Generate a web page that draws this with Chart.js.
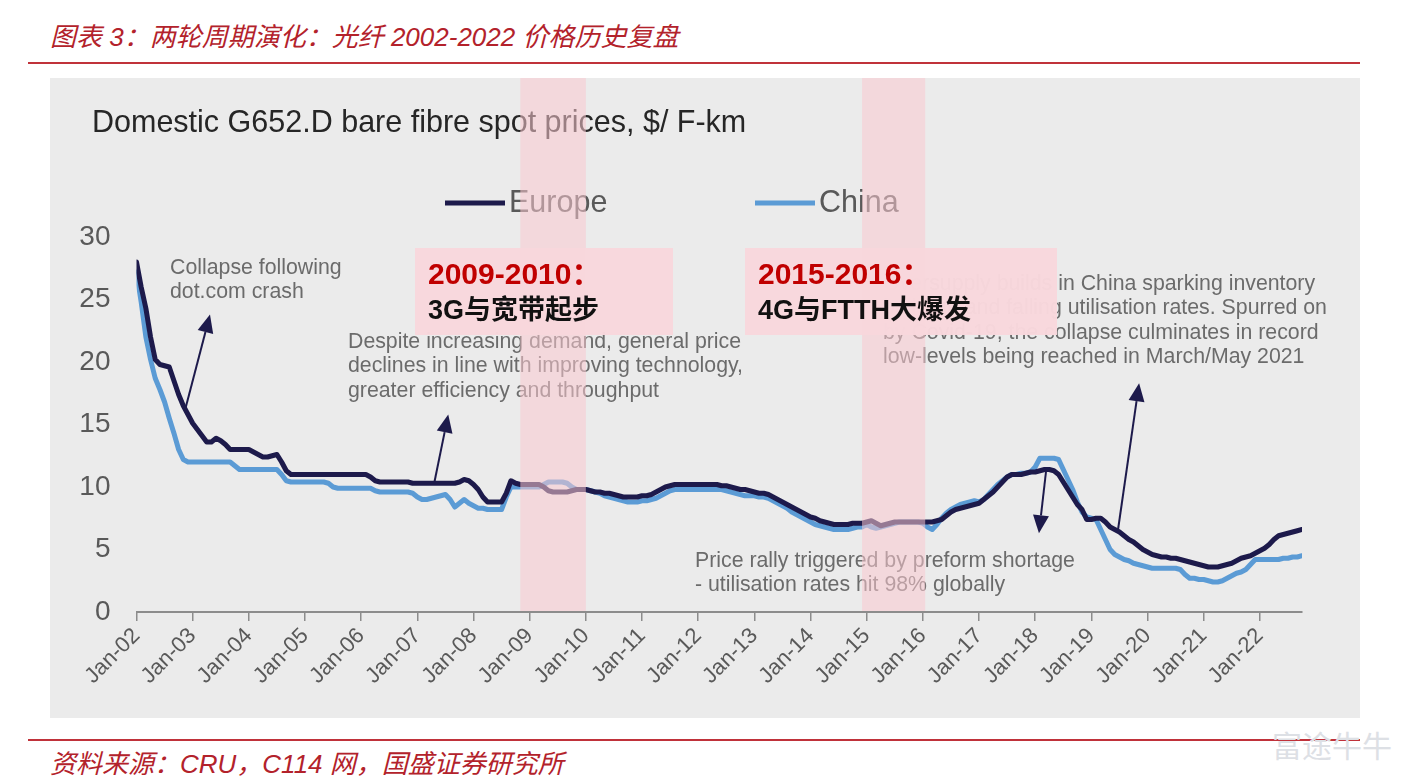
<!DOCTYPE html>
<html lang="zh-CN">
<head>
<meta charset="utf-8">
<title>光纤 2002-2022 价格历史复盘</title>
<script src="https://cdn.jsdelivr.net/npm/chart.js@4.4.1/dist/chart.umd.min.js"></script>
<style>
  html, body { margin: 0; padding: 0; background: #fff; }
  body { width: 1417px; height: 779px; position: relative; overflow: hidden; }
  .caption {
    position: absolute; left: 50px; white-space: nowrap;
    font-family: "Liberation Sans", "Noto Sans CJK SC", sans-serif;
    font-style: italic; font-size: 26px; color: #b3222b;
  }
  .rule { position: absolute; left: 28px; width: 1332px; height: 2px; background: #c0323a; }
  #panel { position: absolute; left: 50px; top: 78px; width: 1310px; height: 640px; background: #ebebeb; }
  .mark { position: absolute; left: 1272px; top: 722px; font: 30px "Noto Sans CJK SC", sans-serif; color: #dde0e5; }
</style>
</head>
<body>
<div class="caption" style="top:16px">图表 3：两轮周期演化：光纤 2002-2022 价格历史复盘</div>
<div class="rule" style="top:62px"></div>
<div id="panel"><canvas id="chart" width="1310" height="640"></canvas></div>
<div class="rule" style="top:739px"></div>
<div class="caption" style="top:743px">资料来源：CRU，C114 网，国盛证券研究所</div>
<div class="mark">富途牛牛</div>

<script>
// monthly spot prices, Jan-02 .. Oct-22 ($/F-km), one row per year
const tickLabels = ["Jan-02", "Jan-03", "Jan-04", "Jan-05", "Jan-06", "Jan-07", "Jan-08",
  "Jan-09", "Jan-10", "Jan-11", "Jan-12", "Jan-13", "Jan-14", "Jan-15", "Jan-16",
  "Jan-17", "Jan-18", "Jan-19", "Jan-20", "Jan-21", "Jan-22"];

const europe = [
  28.0, 26.0, 24.3, 22.0, 20.2, 19.8, 19.7, 19.6, 18.5, 17.4, 16.5, 15.8,
  15.1, 14.6, 14.1, 13.6, 13.6, 13.9, 13.7, 13.4, 13.0, 13.0, 13.0, 13.0,
  13.0, 12.8, 12.6, 12.4, 12.4, 12.5, 12.6, 12.0, 11.3, 11.0, 11.0, 11.0,
  11.0, 11.0, 11.0, 11.0, 11.0, 11.0, 11.0, 11.0, 11.0, 11.0, 11.0, 11.0,
  11.0, 11.0, 10.8, 10.5, 10.4, 10.4, 10.4, 10.4, 10.4, 10.4, 10.4, 10.3,
  10.3, 10.3, 10.3, 10.3, 10.3, 10.3, 10.3, 10.3, 10.3, 10.4, 10.6, 10.5,
  10.2, 9.8, 9.2, 8.8, 8.8, 8.8, 8.8, 9.5, 10.5, 10.3, 10.2, 10.2,
  10.2, 10.2, 10.2, 10.0, 9.7, 9.6, 9.6, 9.6, 9.6, 9.7, 9.8, 9.8,
  9.8, 9.7, 9.6, 9.6, 9.5, 9.5, 9.4, 9.3, 9.2, 9.2, 9.2, 9.2,
  9.3, 9.3, 9.4, 9.6, 9.8, 10.0, 10.1, 10.2, 10.2, 10.2, 10.2, 10.2,
  10.2, 10.2, 10.2, 10.2, 10.2, 10.1, 10.1, 10.0, 9.9, 9.8, 9.8, 9.7,
  9.6, 9.5, 9.5, 9.4, 9.2, 9.0, 8.8, 8.6, 8.4, 8.2, 8.0, 7.8,
  7.6, 7.5, 7.3, 7.2, 7.1, 7.0, 7.0, 7.0, 7.0, 7.1, 7.1, 7.1,
  7.2, 7.3, 7.1, 6.9, 7.0, 7.1, 7.2, 7.2, 7.2, 7.2, 7.2, 7.2,
  7.2, 7.2, 7.2, 7.3, 7.4, 7.7, 8.0, 8.2, 8.3, 8.4, 8.5, 8.6,
  8.7, 9.0, 9.3, 9.6, 10.0, 10.4, 10.8, 11.0, 11.0, 11.0, 11.1, 11.2,
  11.2, 11.3, 11.4, 11.4, 11.3, 11.0, 10.4, 9.8, 9.2, 8.6, 8.2, 7.4,
  7.4, 7.5, 7.5, 7.2, 6.8, 6.6, 6.4, 6.1, 5.8, 5.6, 5.3, 5.0,
  4.8, 4.6, 4.5, 4.4, 4.4, 4.3, 4.3, 4.2, 4.1, 4.0, 3.9, 3.8,
  3.7, 3.6, 3.6, 3.6, 3.7, 3.8, 3.9, 4.1, 4.3, 4.4, 4.5, 4.7,
  4.9, 5.1, 5.4, 5.8, 6.1, 6.2, 6.3, 6.4, 6.5, 6.6
];

const china = [
  27.2, 24.8, 22.0, 20.2, 18.7, 17.8, 16.8, 15.5, 14.3, 13.0, 12.2, 12.0,
  12.0, 12.0, 12.0, 12.0, 12.0, 12.0, 12.0, 12.0, 12.0, 11.7, 11.4, 11.4,
  11.4, 11.4, 11.4, 11.4, 11.4, 11.4, 11.4, 11.0, 10.5, 10.4, 10.4, 10.4,
  10.4, 10.4, 10.4, 10.4, 10.4, 10.3, 10.0, 9.9, 9.9, 9.9, 9.9, 9.9,
  9.9, 9.9, 9.9, 9.7, 9.6, 9.6, 9.6, 9.6, 9.6, 9.6, 9.6, 9.5,
  9.2, 9.0, 9.0, 9.1, 9.2, 9.3, 9.4, 9.0, 8.4, 8.7, 9.0, 8.7,
  8.5, 8.3, 8.3, 8.2, 8.2, 8.2, 8.2, 9.2, 10.0, 10.0, 10.0, 10.0,
  10.0, 10.0, 10.0, 10.2, 10.4, 10.4, 10.4, 10.4, 10.3, 10.0, 9.8, 9.8,
  9.8, 9.7, 9.6, 9.5, 9.3, 9.2, 9.1, 9.0, 8.9, 8.8, 8.8, 8.8,
  8.9, 8.9, 9.0, 9.1, 9.3, 9.5, 9.7, 9.8, 9.8, 9.8, 9.8, 9.8,
  9.8, 9.8, 9.8, 9.8, 9.8, 9.8, 9.7, 9.6, 9.5, 9.4, 9.3, 9.3,
  9.3, 9.2, 9.2, 9.1, 8.9, 8.7, 8.5, 8.3, 8.0, 7.8, 7.6, 7.4,
  7.2, 7.0, 6.9, 6.8, 6.7, 6.6, 6.6, 6.6, 6.6, 6.7, 6.8, 6.8,
  7.0, 6.8, 6.7, 6.8, 6.9, 7.0, 7.1, 7.2, 7.2, 7.2, 7.2, 7.2,
  7.1, 6.8, 6.6, 7.0, 7.5, 7.9, 8.2, 8.4, 8.6, 8.7, 8.8, 8.9,
  8.8, 9.0, 9.4, 9.8, 10.2, 10.5, 10.8, 11.0, 11.0, 11.1, 11.1, 11.2,
  11.6, 12.3, 12.3, 12.3, 12.3, 12.2, 11.4, 10.6, 9.8, 8.8, 8.0, 7.6,
  7.5, 7.4, 6.6, 5.8, 5.0, 4.6, 4.4, 4.2, 4.1, 3.9, 3.8, 3.7,
  3.6, 3.5, 3.5, 3.5, 3.5, 3.5, 3.5, 3.4, 3.0, 2.7, 2.7, 2.6,
  2.6, 2.5, 2.4, 2.4, 2.5, 2.7, 2.9, 3.1, 3.2, 3.4, 3.8, 4.2,
  4.2, 4.2, 4.2, 4.2, 4.2, 4.3, 4.3, 4.4, 4.4, 4.5
];

const seriesNames = ["Europe", "China"];
const chartHeading = "Domestic G652.D bare fibre spot prices, $/ F-km";

// highlighted cycles, in month index from Jan-02
const cycleBands = [[82, 96], [155, 168.5]];
const cycleBoxes = [
  { x: 365, y: 170, w: 258, h: 87, year: "2009-2010：", text: "3G与宽带起步" },
  { x: 695, y: 170, w: 312, h: 87, year: "2015-2016：", text: "4G与FTTH大爆发" }
];

const notes = [
  { x: 120, y: 190, lines: ["Collapse following", "dot.com crash"] },
  { x: 298, y: 264, lines: ["Despite increasing demand, general price",
    "declines in line with improving technology,", "greater efficiency and throughput"] },
  { x: 833, y: 206, lines: ["Oversupply builds in China sparking inventory",
    "build-up and falling utilisation rates. Spurred on",
    "by Covid-19, the collapse culminates in record",
    "low-levels being reached in March/May 2021"] },
  { x: 645, y: 483, lines: ["Price rally triggered by preform shortage",
    "- utilisation rates hit 98% globally"] }
];

// arrows: [tail month, tail value, head month, head value]
const arrows = [
  [10.4, 16.2, 15.7, 23.8],
  [63.6, 10.3, 66.6, 15.8],
  [194.3, 11.2, 192.8, 6.3],
  [209.7, 6.6, 214.2, 18.3]
];

const FONT = '"Liberation Sans", Arial, sans-serif';
const CJK = '"Liberation Sans", "Noto Sans CJK SC", sans-serif';

function drawArrow(ctx, x1, y1, x2, y2) {
  const ang = Math.atan2(y2 - y1, x2 - x1);
  const len = 18, half = 8;
  const bx = x2 - len * Math.cos(ang), by = y2 - len * Math.sin(ang);
  ctx.beginPath();
  ctx.moveTo(x1, y1);
  ctx.lineTo(bx, by);
  ctx.stroke();
  ctx.beginPath();
  ctx.moveTo(x2, y2);
  ctx.lineTo(bx + half * Math.sin(ang), by - half * Math.cos(ang));
  ctx.lineTo(bx - half * Math.sin(ang), by + half * Math.cos(ang));
  ctx.closePath();
  ctx.fill();
}

const overlay = {
  id: "overlay",
  beforeDatasetsDraw(chart) {
    const ctx = chart.ctx;
    ctx.save();
    ctx.textBaseline = "middle";
    ctx.fillStyle = "#262626";
    ctx.font = "30.5px " + FONT;
    ctx.fillText(chartHeading, 42, 46);

    // legend
    const legendX = [395, 705];
    chart.data.datasets.forEach((ds, i) => {
      ctx.strokeStyle = ds.borderColor;
      ctx.lineWidth = 5;
      ctx.beginPath();
      ctx.moveTo(legendX[i], 125);
      ctx.lineTo(legendX[i] + 60, 125);
      ctx.stroke();
      ctx.fillStyle = "#595959";
      ctx.font = "30.5px " + FONT;
      ctx.fillText(ds.label, legendX[i] + 64, 126);
    });
    ctx.restore();
  },
  afterDatasetsDraw(chart) {
    const ctx = chart.ctx;
    const xs = chart.scales.x, ys = chart.scales.y;
    const area = chart.chartArea;
    ctx.save();

    // notes
    ctx.textBaseline = "middle";
    ctx.fillStyle = "#6b6b6b";
    ctx.font = "21.3px " + FONT;
    notes.forEach(n => {
      n.lines.forEach((t, k) => ctx.fillText(t, n.x, n.y + k * 24.5));
    });

    // arrows
    ctx.strokeStyle = "#1d1a4b";
    ctx.fillStyle = "#1d1a4b";
    ctx.lineWidth = 2;
    arrows.forEach(a => {
      drawArrow(ctx, xs.getPixelForValue(a[0]), ys.getPixelForValue(a[1]),
        xs.getPixelForValue(a[2]), ys.getPixelForValue(a[3]));
    });

    // cycle bands
    ctx.fillStyle = "rgba(250, 200, 208, 0.55)";
    cycleBands.forEach(b => {
      const x1 = xs.getPixelForValue(b[0]), x2 = xs.getPixelForValue(b[1]);
      ctx.fillRect(x1, 0, x2 - x1, area.bottom - 1);
    });

    // cycle boxes
    cycleBoxes.forEach(b => {
      ctx.fillStyle = "rgba(248, 215, 220, 0.98)";
      ctx.fillRect(b.x, b.y, b.w, b.h);
      ctx.fillStyle = "#c00000";
      ctx.font = "bold 30px " + CJK;
      ctx.fillText(b.year, b.x + 13, b.y + 28);
      ctx.fillStyle = "#111";
      ctx.font = "bold 27px " + CJK;
      ctx.fillText(b.text, b.x + 13, b.y + 64);
    });
    ctx.restore();
  }
};

new Chart(document.getElementById("chart"), {
  type: "line",
  data: {
    datasets: [
      {
        label: seriesNames[0],
        data: europe.map((v, i) => ({ x: i, y: v })),
        borderColor: "#1d1a4b",
        borderWidth: 5
      },
      {
        label: seriesNames[1],
        data: china.map((v, i) => ({ x: i, y: v })),
        borderColor: "#5b9bd5",
        borderWidth: 5
      }
    ]
  },
  options: {
    responsive: false,
    animation: false,
    layout: { padding: { top: 159, right: 58, left: 0, bottom: 0 } },
    elements: {
      point: { radius: 0 },
      line: { tension: 0, borderJoinStyle: "round", borderCapStyle: "round" }
    },
    plugins: {
      legend: { display: false },
      title: { display: false },
      tooltip: { enabled: false }
    },
    scales: {
      x: {
        type: "linear",
        min: 0,
        max: europe.length - 1,
        afterFit: s => { s.height = 106; },
        border: { display: true, color: "#8c8c8c", width: 2 },
        grid: { drawOnChartArea: false, drawTicks: true, tickLength: 9, color: "#8c8c8c", lineWidth: 1.5 },
        ticks: {
          stepSize: 12,
          includeBounds: false,
          autoSkip: false,
          minRotation: 45,
          maxRotation: 45,
          padding: 2,
          color: "#595959",
          font: { family: FONT, size: 22 },
          callback: v => tickLabels[v / 12]
        }
      },
      y: {
        min: 0,
        max: 30,
        afterFit: s => { s.width = 86.5; },
        border: { display: false },
        grid: { display: false, drawTicks: false },
        ticks: {
          stepSize: 5,
          padding: 26,
          color: "#595959",
          font: { family: FONT, size: 28 }
        }
      }
    }
  },
  plugins: [overlay]
});
</script>
</body>
</html>
